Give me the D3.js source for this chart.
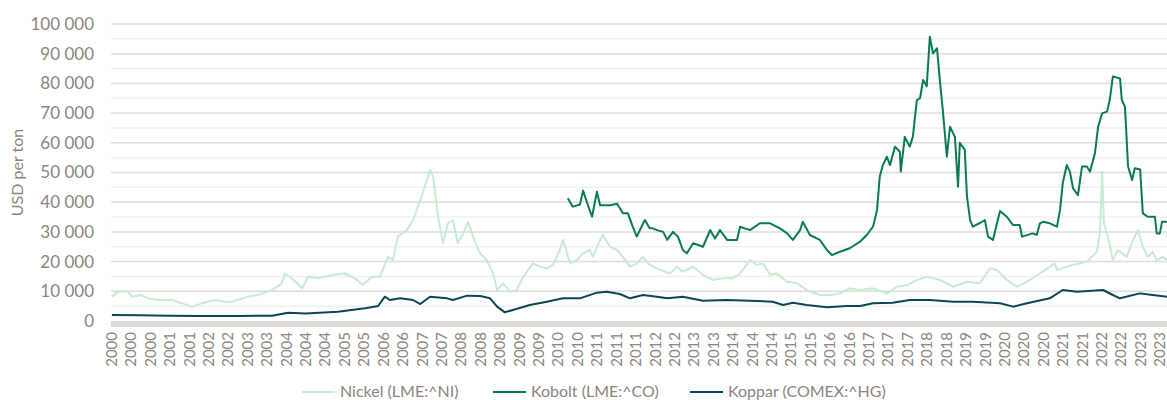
<!DOCTYPE html>
<meta charset="utf-8">
<style>
body { margin: 0; background: #fff; }
text { font-family: Lato, "Open Sans", sans-serif; fill: #8b8480; }
.grid line { stroke: #dedcdc; stroke-width: 1.5px; }
.grid line.minor { stroke: #f1f0f0; }
.series { fill: none; stroke-width: 2px; stroke-linejoin: round; }
</style>
<svg width="1167" height="400"></svg>
<script src="https://d3js.org/d3.v7.min.js"></script>
<script>

// x values are decimal years, y values USD per ton
var nickel = [
  [2000.02, 8200], [2000.16, 9900], [2000.38, 9900], [2000.47, 8200], [2000.69, 8750],
  [2000.83, 7600], [2001.05, 7100], [2001.36, 7100], [2001.59, 5950], [2001.81, 4850],
  [2002.03, 5950], [2002.32, 7100], [2002.55, 6500], [2002.70, 6500], [2003.06, 8200],
  [2003.28, 8750], [2003.60, 10400], [2003.82, 12700], [2003.89, 16000], [2004.04, 14400],
  [2004.27, 11000], [2004.40, 14900], [2004.63, 14400], [2004.94, 15500], [2005.23, 16000],
  [2005.45, 14400], [2005.63, 12100], [2005.83, 14900], [2006.01, 14900], [2006.19, 21600],
  [2006.30, 20500], [2006.41, 28400], [2006.61, 30600], [2006.75, 34000], [2006.91, 40700],
  [2007.06, 47500], [2007.13, 50800], [2007.20, 48600], [2007.31, 35100], [2007.42, 26200],
  [2007.53, 32900], [2007.64, 34000], [2007.75, 26200], [2007.87, 29500], [2007.98, 33400],
  [2008.09, 28400], [2008.25, 22800], [2008.40, 20500], [2008.54, 16000], [2008.63, 10400],
  [2008.76, 12700], [2008.92, 9900], [2009.07, 10400], [2009.21, 14900], [2009.43, 19400],
  [2009.59, 18300], [2009.74, 17700], [2009.88, 18900], [2010.03, 23900], [2010.10, 27300],
  [2010.26, 19400], [2010.41, 20500], [2010.55, 22800], [2010.70, 23900], [2010.77, 21600],
  [2010.93, 27300], [2010.99, 29000], [2011.15, 25000], [2011.31, 23900], [2011.44, 21600],
  [2011.60, 18300], [2011.75, 19400], [2011.89, 21600], [2012.04, 18900], [2012.20, 17700],
  [2012.27, 17200], [2012.49, 16000], [2012.65, 18300], [2012.78, 16600], [2013.01, 18300],
  [2013.23, 15500], [2013.45, 13800], [2013.68, 14400], [2013.90, 14400], [2014.06, 16000],
  [2014.28, 20500], [2014.44, 18900], [2014.57, 19400], [2014.73, 15500], [2014.88, 16000],
  [2015.11, 13200], [2015.33, 12700], [2015.55, 10400], [2015.84, 8750], [2016.07, 8750],
  [2016.29, 9300], [2016.51, 11000], [2016.74, 10400], [2017.03, 11000], [2017.34, 9300],
  [2017.56, 11550], [2017.79, 12100], [2018.01, 13800], [2018.23, 14900], [2018.53, 13800],
  [2018.82, 11550], [2019.13, 13200], [2019.42, 12700], [2019.64, 17700], [2019.80, 17200],
  [2020.02, 13800], [2020.25, 11550], [2020.47, 13200], [2020.76, 16000], [2021.09, 19400],
  [2021.14, 17200], [2021.50, 18900], [2021.81, 20000], [2022.03, 23300], [2022.10, 29500],
  [2022.15, 50300], [2022.19, 32900], [2022.28, 28400], [2022.39, 20500], [2022.50, 23900],
  [2022.70, 21600], [2022.84, 27300], [2022.95, 30600], [2023.06, 25000], [2023.17, 21600],
  [2023.28, 23300], [2023.37, 20500], [2023.51, 21600], [2023.60, 20500]
];

var kobolt = [
  [2010.21, 41300], [2010.32, 38500], [2010.48, 39200], [2010.55, 43900], [2010.64, 39800],
  [2010.75, 35100], [2010.86, 43500], [2010.93, 39000], [2011.15, 39000], [2011.31, 39500],
  [2011.44, 36300], [2011.55, 36300], [2011.66, 31750], [2011.75, 28400], [2011.82, 30600],
  [2011.93, 34000], [2012.04, 31200], [2012.11, 31200], [2012.20, 30600], [2012.34, 30000],
  [2012.43, 27300], [2012.56, 30000], [2012.67, 28400], [2012.78, 23900], [2012.87, 22800],
  [2013.01, 26200], [2013.23, 25000], [2013.39, 30600], [2013.50, 27800], [2013.61, 30600],
  [2013.77, 27300], [2013.99, 27300], [2014.06, 31750], [2014.28, 30600], [2014.50, 32900],
  [2014.73, 32900], [2014.95, 31200], [2015.11, 29500], [2015.24, 27300], [2015.40, 30600],
  [2015.46, 33400], [2015.62, 28950], [2015.84, 27300], [2016.00, 23900], [2016.11, 22200],
  [2016.29, 23300], [2016.51, 24500], [2016.74, 26700], [2016.89, 28950], [2017.03, 31750],
  [2017.12, 37400], [2017.18, 48600], [2017.25, 52500], [2017.34, 55300], [2017.41, 52500],
  [2017.52, 58700], [2017.63, 57000], [2017.65, 50300], [2017.74, 62000], [2017.85, 58700],
  [2017.92, 62000], [2018.01, 74400], [2018.08, 75000], [2018.15, 81150], [2018.23, 79000],
  [2018.30, 95700], [2018.37, 90100], [2018.46, 91800], [2018.53, 80000], [2018.59, 71000],
  [2018.68, 55300], [2018.75, 65400], [2018.86, 62000], [2018.93, 45200], [2018.97, 60000],
  [2019.08, 57600], [2019.13, 41850], [2019.20, 34000], [2019.26, 31750], [2019.42, 33000],
  [2019.53, 34000], [2019.60, 28400], [2019.71, 27300], [2019.80, 32900], [2019.87, 37000],
  [2020.02, 35100], [2020.16, 32300], [2020.31, 32300], [2020.36, 28400], [2020.60, 29500],
  [2020.69, 29000], [2020.76, 32900], [2020.83, 33400], [2020.98, 32900], [2021.14, 31750],
  [2021.21, 37400], [2021.27, 46400], [2021.36, 52500], [2021.43, 50300], [2021.50, 44700],
  [2021.61, 42400], [2021.70, 52000], [2021.81, 52000], [2021.88, 50300], [2021.99, 56500],
  [2022.06, 65400], [2022.15, 69900], [2022.26, 70500], [2022.32, 74400], [2022.39, 82300],
  [2022.55, 81700], [2022.59, 74400], [2022.66, 72200], [2022.73, 52000], [2022.82, 47500],
  [2022.88, 51400], [2023.00, 51000], [2023.06, 36250], [2023.17, 35100], [2023.33, 35100],
  [2023.37, 29500], [2023.44, 29500], [2023.49, 33400], [2023.60, 33400]
];

var koppar = [
  [2000.02, 2000], [2000.65, 1900], [2001.32, 1800], [2001.99, 1700], [2002.88, 1700],
  [2003.60, 1800], [2003.96, 2800], [2004.34, 2500], [2005.07, 3130], [2005.68, 4270],
  [2005.97, 5050], [2006.12, 8180], [2006.23, 7070], [2006.46, 7630], [2006.75, 7070],
  [2006.91, 5720], [2007.13, 8180], [2007.51, 7630], [2007.64, 7070], [2007.96, 8530],
  [2008.25, 8420], [2008.47, 7630], [2008.63, 4830], [2008.80, 2920], [2008.98, 3700],
  [2009.36, 5390], [2009.74, 6500], [2010.10, 7630], [2010.48, 7630], [2010.86, 9540],
  [2011.08, 9870], [2011.37, 9100], [2011.60, 7630], [2011.89, 8750], [2012.20, 8200],
  [2012.43, 7630], [2012.78, 8180], [2013.23, 6840], [2013.77, 7070], [2014.28, 6840],
  [2014.79, 6500], [2015.02, 5390], [2015.24, 6170], [2015.55, 5390], [2016.00, 4600],
  [2016.45, 5050], [2016.74, 5050], [2017.03, 5950], [2017.47, 6170], [2017.85, 7070],
  [2018.30, 7070], [2018.82, 6500], [2019.26, 6500], [2019.87, 5950], [2020.16, 4830],
  [2020.47, 5950], [2020.98, 7630], [2021.27, 10440], [2021.59, 9870], [2022.17, 10440],
  [2022.39, 8750], [2022.55, 7630], [2022.99, 9300], [2023.28, 8750], [2023.60, 8200]
];

var yearLabels = [
  2000, 2000, 2000, 2001, 2001, 2002, 2002, 2003, 2003, 2004, 2004, 2004, 2005, 2005, 2006,
  2006, 2007, 2007, 2008, 2008, 2008, 2009, 2009, 2010, 2010, 2011, 2011, 2011, 2012, 2012,
  2013, 2013, 2014, 2014, 2014, 2015, 2015, 2016, 2016, 2017, 2017, 2017, 2018, 2018, 2019,
  2019, 2020, 2020, 2020, 2021, 2021, 2022, 2022, 2023, 2023
];

var seriesNames = ["Nickel (LME:^NI)", "Kobolt (LME:^CO)", "Koppar (COMEX:^HG)"];
var seriesColors = ["#c8ebd3", "#0a7a55", "#0c4652"];

var svg = d3.select("svg"),
    plotLeft = 111, plotRight = 1167, plotTop = 24, plotBottom = 321;

var x = d3.scaleLinear().domain([2000, 2023.6]).range([plotLeft, plotRight]);
var y = d3.scaleLinear().domain([0, 100000]).range([plotBottom, plotTop]);

var fmt = d3.formatLocale({decimal: ",", thousands: " ", grouping: [3], currency: ["", ""]}).format(",d");

// grid
var grid = svg.append("g").attr("class", "grid");
grid.selectAll("line.minor")
  .data(d3.range(5000, 100000, 10000))
  .enter().append("line")
    .attr("class", "minor")
    .attr("x1", plotLeft).attr("x2", plotRight)
    .attr("y1", function(d) { return y(d); })
    .attr("y2", function(d) { return y(d); });
grid.selectAll("line.major")
  .data(d3.range(10000, 100001, 10000))
  .enter().append("line")
    .attr("class", "major")
    .attr("x1", plotLeft).attr("x2", plotRight)
    .attr("y1", function(d) { return y(d); })
    .attr("y2", function(d) { return y(d); });

// baseline band
svg.append("rect")
  .attr("x", plotLeft).attr("y", y(0))
  .attr("width", plotRight - plotLeft).attr("height", 6)
  .attr("fill", "#dedad8");

// y labels
svg.append("g")
  .selectAll("text")
  .data(d3.range(0, 100001, 10000))
  .enter().append("text")
    .attr("x", 94)
    .attr("y", function(d) { return y(d); })
    .attr("dy", "0.35em")
    .attr("text-anchor", "end")
    .style("font-size", "17px")
    .text(fmt);

svg.append("text")
  .attr("transform", "translate(17," + (plotTop + plotBottom) / 2 + ") rotate(-90)")
  .attr("text-anchor", "middle")
  .attr("dy", "0.35em")
  .style("font-size", "16px")
  .text("USD per ton");

// x labels
var xl = d3.scalePoint().domain(d3.range(yearLabels.length)).range([111.7, 1160]);
svg.append("g")
  .selectAll("text")
  .data(yearLabels)
  .enter().append("text")
    .attr("transform", function(d, i) { return "translate(" + xl(i) + ",332) rotate(-90)"; })
    .attr("text-anchor", "end")
    .attr("dy", "0.35em")
    .style("font-size", "15px")
    .text(function(d) { return d; });

// lines
var line = d3.line()
  .x(function(d) { return x(d[0]); })
  .y(function(d) { return y(d[1]); });

[[nickel, 0], [koppar, 2], [kobolt, 1]].forEach(function(s) {
  svg.append("path")
    .datum(s[0])
    .attr("class", "series")
    .attr("stroke", seriesColors[s[1]])
    .attr("d", line);
});

// legend
var legX = [302, 493, 690];
var leg = svg.append("g").selectAll("g")
  .data(seriesNames)
  .enter().append("g")
    .attr("transform", function(d, i) { return "translate(" + legX[i] + ",391)"; });
leg.append("line")
  .attr("x1", 0).attr("x2", 33)
  .attr("y1", 1).attr("y2", 1)
  .attr("stroke", function(d, i) { return seriesColors[i]; })
  .attr("stroke-width", 2);
leg.append("text")
  .attr("x", 38)
  .attr("dy", "0.35em")
  .style("font-size", "16px")
  .text(function(d) { return d; });

</script>
